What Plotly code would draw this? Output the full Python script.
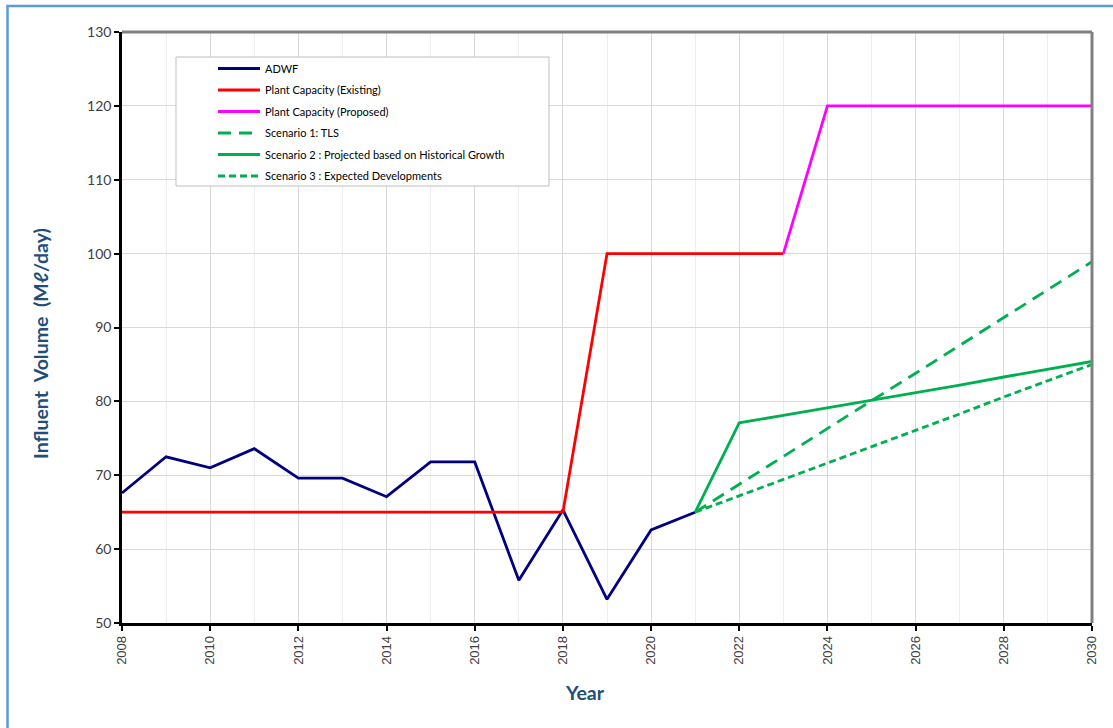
import plotly.graph_objects as go

years_hist = [2008, 2009, 2010, 2011, 2012, 2013, 2014, 2015, 2016, 2017, 2018, 2019, 2020, 2021]
adwf = [67.6, 72.5, 71.0, 73.6, 69.6, 69.6, 67.1, 71.8, 71.8, 55.8, 65.3, 53.2, 62.6, 65.0]

years_exist = [2008, 2009, 2010, 2011, 2012, 2013, 2014, 2015, 2016, 2017, 2018, 2019, 2020, 2021, 2022, 2023]
cap_exist = [65, 65, 65, 65, 65, 65, 65, 65, 65, 65, 65, 100, 100, 100, 100, 100]

years_prop = [2023, 2024, 2025, 2026, 2027, 2028, 2029, 2030]
cap_prop = [100, 120, 120, 120, 120, 120, 120, 120]

years_proj = [2021, 2022, 2023, 2024, 2025, 2026, 2027, 2028, 2029, 2030]
scen1 = [65.0, 68.8, 72.5, 76.3, 80.1, 83.8, 87.6, 91.4, 95.1, 98.9]
scen2 = [65.0, 77.1, 78.1, 79.1, 80.2, 81.2, 82.2, 83.3, 84.4, 85.4]
scen3 = [65.0, 67.2, 69.4, 71.7, 73.9, 76.1, 78.3, 80.6, 82.8, 85.0]

W, H = 1113, 728
# target plot area in page pixels
L, R, T, B = 122, 1092, 32, 623

def px(x):
    return (x - L) / (R - L)

def py(y):
    return (B - y) / (B - T)

fig = go.Figure()
legend_font = dict(family="Lato, Carlito, sans-serif", size=11, color="#000000")

def add(x, y, name, color, dash="solid", g="a"):
    fig.add_trace(go.Scatter(x=x, y=y, name=name, mode="lines",
                             line=dict(color=color, width=2.8, dash=dash),
                             legendgroup=g))

add(years_hist, adwf, "ADWF", "#000080", g="a")
add(years_exist, cap_exist, "Plant Capacity (Existing)", "#FF0000", g="b")
add(years_prop, cap_prop, "Plant Capacity (Proposed)", "#FF00FF", g="c")
add(years_proj, scen1, "Scenario 1: TLS", "#00B050", dash="13px,8px", g="d")
add(years_proj, scen2, "Scenario 2 : Projected based on Historical Growth", "#00B050", g="e")
add(years_proj, scen3, "Scenario 3 : Expected Developments", "#00B050", dash="7px,4px", g="f")

shapes = [
    # outer blue border
    dict(type="rect", xref="paper", yref="paper", x0=px(7.5), x1=px(1130), y0=py(745), y1=py(6),
         line=dict(color="#5B9BD5", width=2.5), fillcolor="rgba(0,0,0,0)", layer="below"),
    # legend box
    dict(type="rect", xref="paper", yref="paper", x0=px(176), x1=px(549), y0=py(186), y1=py(57),
         line=dict(color="#BFBFBF", width=1), fillcolor="#FFFFFF", layer="above"),
    # top and right frame lines (gray)
    dict(type="line", xref="paper", yref="paper", x0=0, x1=1.0, y0=1, y1=1,
         line=dict(color="#808080", width=3)),
    dict(type="line", xref="paper", yref="paper", x0=1, x1=1, y0=0, y1=1,
         line=dict(color="#808080", width=3)),
]

title_font = dict(family="Lato, sans-serif", size=19.5, color="#1F4E79")
annotations = [
    dict(text="<b>Year</b>", xref="paper", yref="paper", x=px(585), y=py(692),
         showarrow=False, font=title_font, xanchor="center", yanchor="middle"),
    dict(text="<b>Influent  Volume  (Mℓ/day)</b>", xref="paper", yref="paper", x=px(40), y=py(344),
         showarrow=False, textangle=-90, font=title_font, xanchor="center", yanchor="middle"),
]

fig.update_layout(
    width=W, height=H,
    margin=dict(l=L, r=W - R, t=T, b=H - B, pad=0),
    paper_bgcolor="#FFFFFF", plot_bgcolor="#FFFFFF",
    showlegend=True,
    legend=dict(x=px(213), y=py(54), xanchor="left", yanchor="top",
                bgcolor="rgba(0,0,0,0)", borderwidth=0, font=legend_font,
                tracegroupgap=2.5, itemwidth=42),
    shapes=shapes,
    annotations=annotations,
    xaxis=dict(range=[2008, 2030], dtick=2, tick0=2008, tickangle=-90,
               showgrid=True, gridcolor="#D9D9D9", gridwidth=1,
               minor=dict(dtick=1, showgrid=True, gridcolor="#EDEDED", gridwidth=1),
               showline=True, linecolor="#000000", linewidth=2.5,
               ticks="outside", ticklen=5, tickcolor="#000000", tickwidth=1.5,
               tickfont=dict(family="Liberation Sans, Arial, sans-serif", size=13, color="#404040"),
               zeroline=False, fixedrange=True),
    yaxis=dict(range=[50, 130], dtick=10, tick0=50,
               showgrid=True, gridcolor="#D9D9D9", gridwidth=1,
               showline=True, linecolor="#000000", linewidth=2.5,
               ticks="outside", ticklen=5, tickcolor="#000000", tickwidth=1.5,
               tickfont=dict(family="Lato, Carlito, sans-serif", size=14, color="#404040"),
               zeroline=False, fixedrange=True),
)

fig.write_html("out.html", config={"displayModeBar": False},
               post_script="document.body.style.margin='0';document.body.style.overflow='hidden';")
